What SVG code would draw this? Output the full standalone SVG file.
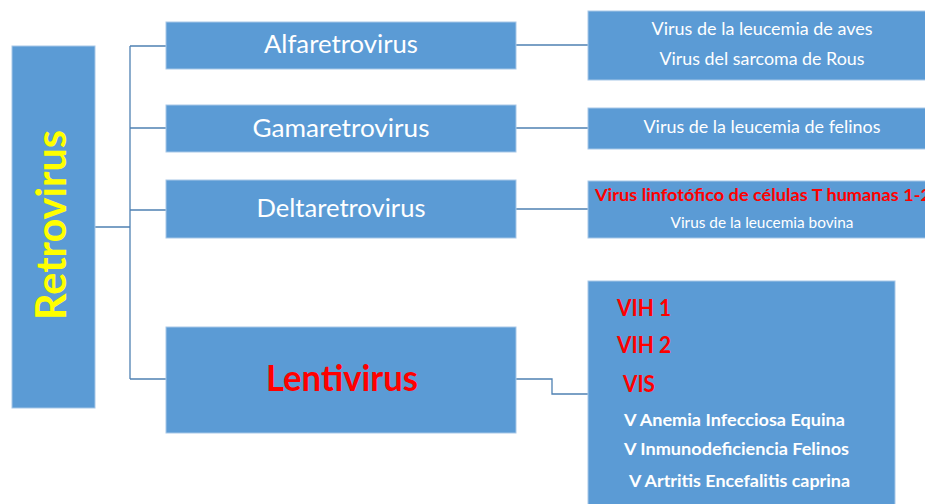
<svg xmlns="http://www.w3.org/2000/svg" width="925" height="504" viewBox="0 0 925 504">
<style>
.box{fill:#5B9BD5;stroke:#A7C7E7;stroke-width:1}
.conn{fill:none;stroke:#4F81B3;stroke-width:1.3}
text{font-family:Lato,"Liberation Sans",sans-serif}
.w{fill:#FFFFFF}
.wb{fill:#FFFFFF;font-weight:bold}
.r{fill:#FF0000;font-weight:bold}
.mid{text-anchor:middle}
</style>
<rect x="0" y="0" width="925" height="504" fill="#FFFFFF"/>
<g id="connectors">
<path class="conn" d="M95,227 H130 M130,46 V379 M130,46 H166 M130,128 H166 M130,210 H166 M130,379 H166"/>
<path class="conn" d="M516,45 H588 M516,128 H588 M516,209 H588 M516,379 H552 V394 H588"/>
</g>
<g id="retrovirus">
<rect class="box" x="12" y="46" width="83" height="362"/>
<text transform="translate(66,225) rotate(-90)" text-anchor="middle" font-size="42" font-weight="bold" fill="#FFFF00" textLength="190" lengthAdjust="spacingAndGlyphs">Retrovirus</text>
</g>
<g id="alfaretrovirus">
<rect class="box" x="166" y="22" width="350" height="47"/>
<text class="w mid" x="341" y="53" font-size="25" textLength="154" lengthAdjust="spacingAndGlyphs">Alfaretrovirus</text>
</g>
<g id="gamaretrovirus">
<rect class="box" x="166" y="105" width="350" height="47"/>
<text class="w mid" x="341" y="137" font-size="25" textLength="177" lengthAdjust="spacingAndGlyphs">Gamaretrovirus</text>
</g>
<g id="deltaretrovirus">
<rect class="box" x="166" y="180" width="350" height="58"/>
<text class="w mid" x="341" y="217" font-size="25" textLength="169" lengthAdjust="spacingAndGlyphs">Deltaretrovirus</text>
</g>
<g id="lentivirus">
<rect class="box" x="166" y="327" width="350" height="106"/>
<text class="r mid" x="342" y="391" font-size="36" textLength="152" lengthAdjust="spacingAndGlyphs">Lentivirus</text>
</g>
<g id="alfa-ejemplos">
<rect class="box" x="588" y="11" width="345" height="69"/>
<text class="w mid" x="762" y="35" font-size="17" textLength="221" lengthAdjust="spacingAndGlyphs">Virus de la leucemia de aves</text>
<text class="w mid" x="762" y="65" font-size="17" textLength="205" lengthAdjust="spacingAndGlyphs">Virus del sarcoma de Rous</text>
</g>
<g id="gama-ejemplos">
<rect class="box" x="588" y="108" width="345" height="41"/>
<text class="w mid" x="762" y="133" font-size="17" textLength="237" lengthAdjust="spacingAndGlyphs">Virus de la leucemia de felinos</text>
</g>
<g id="delta-ejemplos">
<rect class="box" x="588" y="181" width="345" height="57"/>
<text class="r" x="595" y="201" font-size="17" textLength="336" lengthAdjust="spacingAndGlyphs">Virus linfotófico de células T humanas 1-2</text>
<text class="w mid" x="762" y="228" font-size="15" textLength="183" lengthAdjust="spacingAndGlyphs">Virus de la leucemia bovina</text>
</g>
<g id="lenti-ejemplos">
<rect class="box" x="588" y="281" width="307" height="230"/>
<text class="r" x="617" y="316" font-size="22" textLength="54" lengthAdjust="spacingAndGlyphs">VIH 1</text>
<text class="r" x="617" y="353" font-size="22" textLength="54" lengthAdjust="spacingAndGlyphs">VIH 2</text>
<text class="r" x="623" y="392" font-size="22" textLength="32" lengthAdjust="spacingAndGlyphs">VIS</text>
<text class="wb" x="624" y="426" font-size="17" textLength="221" lengthAdjust="spacingAndGlyphs">V Anemia Infecciosa Equina</text>
<text class="wb" x="624" y="455" font-size="17" textLength="225" lengthAdjust="spacingAndGlyphs">V Inmunodeficiencia Felinos</text>
<text class="wb" x="629" y="487" font-size="17" textLength="221" lengthAdjust="spacingAndGlyphs">V Artritis Encefalitis caprina</text>
</g>
</svg>
